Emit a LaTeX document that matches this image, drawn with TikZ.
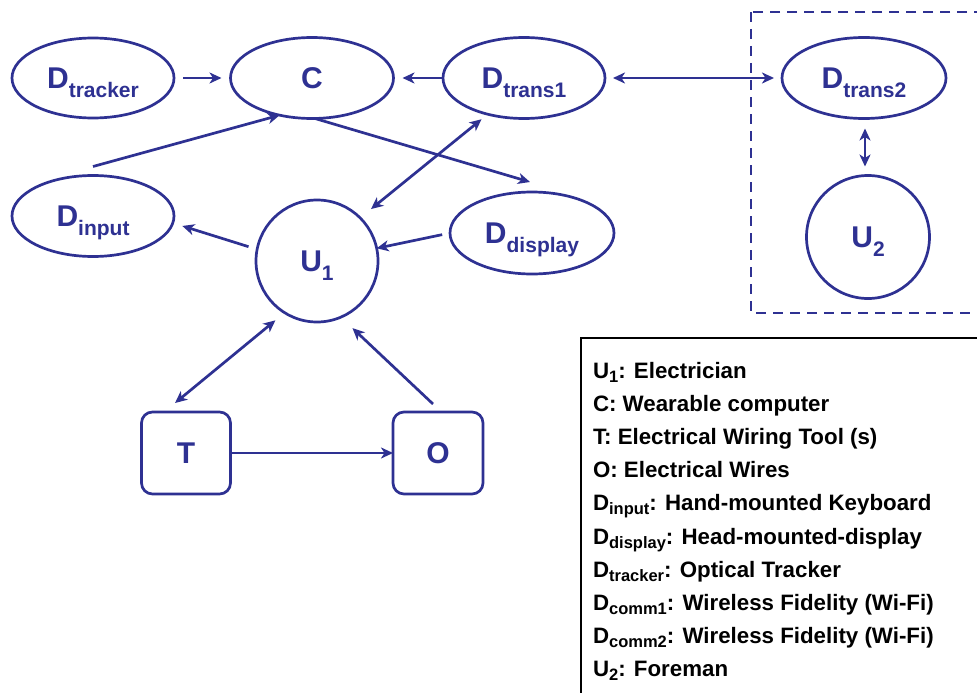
\documentclass[tikz,border=0pt]{standalone}
\usepackage{fontspec}
\setmainfont{Liberation Sans}
\usetikzlibrary{shapes.geometric,arrows.meta}
\definecolor{dblue}{RGB}{46,49,146}
\newcommand\nsub[1]{\raisebox{-9pt}[0pt][0pt]{\fontsize{21}{21}\selectfont #1}}
\newcommand\lsub[1]{\raisebox{-4.5pt}[0pt][0pt]{\fontsize{16.5}{16.5}\selectfont #1}}
\begin{document}
\begin{tikzpicture}[x=1pt,y=-1pt,
  every node/.style={inner sep=0pt, outer sep=0pt},
  nfont/.style={font=\fontsize{30}{30}\selectfont\bfseries, text=dblue},
  ell/.style={nfont, draw=dblue, line width=2.7pt, ellipse},
  circ/.style={nfont, draw=dblue, line width=2.7pt, circle},
  rbox/.style={nfont, draw=dblue, line width=2.7pt, rectangle, rounded corners=11pt},
  tip/.tip={Stealth[length=12pt,width=11pt,inset=3.5pt]},
  conn/.style={draw=dblue, line width=2.7pt, -tip},
  bconn/.style={draw=dblue, line width=2.7pt, tip-tip},
  legend/.style={anchor=base west, font=\fontsize{22.3}{22.3}\selectfont\bfseries, text=black}
]
\useasboundingbox (0,0) rectangle (977,693);
\clip (0,0) rectangle (977,693);
\fill[white] (0,0) rectangle (977,693);

% nodes
\node[ell, minimum width=162pt, minimum height=80pt] (Dtracker) at (93,78) {D\nsub{tracker}};
\node[ell, minimum width=163pt, minimum height=81pt] (C) at (312,78) {C};
\node[ell, minimum width=162pt, minimum height=81pt] (Dtrans1) at (524,78) {D\nsub{trans1}};
\node[ell, minimum width=164pt, minimum height=81pt] (Dtrans2) at (864,78) {D\nsub{trans2}};
\node[ell, minimum width=162pt, minimum height=81pt] (Dinput) at (93,216) {D\nsub{input}};
\node[ell, minimum width=164pt, minimum height=82pt] (Ddisplay) at (532,233) {D\nsub{display}};
\node[circ, minimum size=122pt] (U1) at (317,261) {U\nsub{1}};
\node[circ, minimum size=123pt] (U2) at (868,237) {U\nsub{2}};
\node[rbox, minimum width=89pt, minimum height=82pt] (T) at (186,453) {T};
\node[rbox, minimum width=90pt, minimum height=82pt] (O) at (438,453) {O};

% dashed group box
\draw[dblue, line width=2.7pt, dash pattern=on 10pt off 7pt] (751,12) rectangle (1000,313);

% connectors
\draw[conn, shorten <=9pt, shorten >=9pt] (Dtracker.east) -- (C.west);
\draw[conn, shorten >=9pt] (Dtrans1.west) -- (C.east);
\draw[conn] ([yshift=9pt]Dinput.north) -- (C.229);
\draw[conn] ([xshift=3pt]C.south) -- ([shift={(-2pt,10pt)}]Ddisplay.north);
\draw[bconn, shorten <=14pt, shorten >=8pt] (U1.45) -- (Dtrans1.225);
\draw[conn, shorten <=9pt, shorten >=10pt] (U1.169) -- (Dinput.-5);
\draw[conn, shorten <=8pt] (Ddisplay.west) -- (U1.12);
\draw[bconn, shorten <=8pt, shorten >=8pt] (Dtrans1.east) -- (Dtrans2.west);
\draw[bconn, shorten <=10pt, shorten >=9pt] ([xshift=1pt]Dtrans2.south) -- ([xshift=-3pt]U2.north);
\draw[bconn, shorten >=12pt] ([yshift=9pt]T.105) -- (U1.238);
\draw[conn, shorten >=16pt] ([shift={(-5pt,8pt)}]O.north) -- (U1.-67);
\draw[conn] (T.east) -- (O.west);

% legend
\draw[black, line width=2.7pt] (581,338) rectangle (1000,720);
\node[legend] (l1) at (593,378) {U\lsub{1}: Electrician};
\node[legend] (l2) at (593,411) {C: Wearable computer};
\node[legend] (l3) at (593,444) {T: Electrical Wiring Tool (s)};
\node[legend] (l4) at (593,477) {O: Electrical Wires};
\node[legend] (l5) at (593,510) {D\lsub{input}: Hand-mounted Keyboard};
\node[legend] (l6) at (593,544) {D\lsub{display}: Head-mounted-display};
\node[legend] (l7) at (593,577) {D\lsub{tracker}: Optical Tracker};
\node[legend] (l8) at (593,610) {D\lsub{comm1}: Wireless Fidelity (Wi-Fi)};
\node[legend] (l9) at (593,643) {D\lsub{comm2}: Wireless Fidelity (Wi-Fi)};
\node[legend] (l10) at (593,676) {U\lsub{2}: Foreman};
\end{tikzpicture}
\end{document}
